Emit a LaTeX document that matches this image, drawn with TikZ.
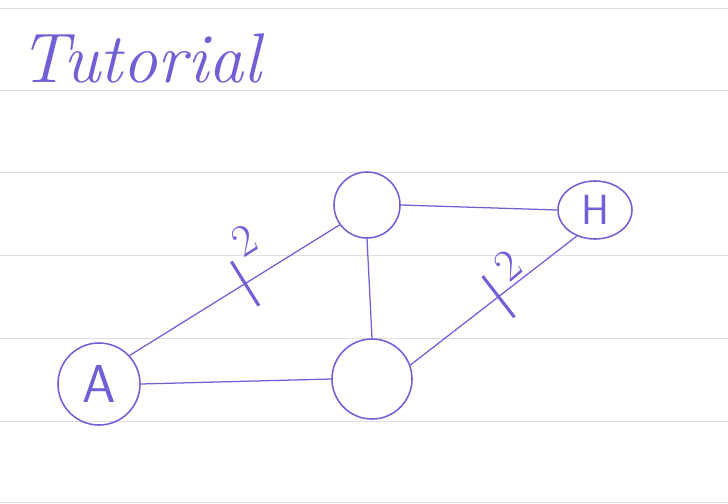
\documentclass[tikz,border=0pt]{standalone}
\usetikzlibrary{shapes.geometric}

\definecolor{penblue}{RGB}{112,96,214}
\definecolor{ruling}{RGB}{222,222,226}

\tikzset{
  vertex/.style = {circle, draw = penblue, line width = 1.1pt, text = penblue,
                   inner sep = 0pt, font = \sffamily\fontsize{38}{38}\selectfont},
  edge/.style   = {draw = penblue, line width = 0.9pt},
  tickmark/.style = {sloped, inner sep = 0pt, text = penblue},
  weight/.style = {text = penblue, font = \fontsize{32}{32}\selectfont}
}

\begin{document}
\begin{tikzpicture}[x = 0.025cm, y = -0.025cm]
\useasboundingbox (0,0) rectangle (728,504);

% ruled paper
\foreach \yy in {8,90,172,255,338,421,502}
  \draw[ruling, line width = 0.6pt] (0,\yy) -- (728,\yy);

\node[text = penblue,
    font = \itshape\fontsize{50}{50}\selectfont] (title) at (140,58) {Tutorial};

% vertices
\node[vertex, minimum size = 2.05cm] (A) at (99,384) {A};
\node[vertex, minimum size = 1.65cm] (top) at (367,205) {};
\node[vertex, minimum size = 2cm] (bot) at (372,379) {};
\node[vertex, ellipse,
    minimum width = 1.85cm,
    minimum height = 1.45cm] (H) at (595,210) {\fontsize{30}{30}\selectfont H};

% edges
\draw[edge] (A.43) -- node[tickmark, pos = 0.55] {\rule{2.2pt}{1.3cm}} (top.216);
\draw[edge] (top.east) -- (H.west);
\draw[edge] (top.south) -- (bot.north);
\draw[edge] (A.east) -- (bot.west);
\draw[edge] (bot.20) -- node[tickmark, pos = 0.53] {\rule{2.2pt}{1.3cm}} (H.235);

% weights
\node[weight, rotate = 32] (w1) at (244,240) {2};
\node[weight, rotate = 40] (w2) at (508,265) {2};
\end{tikzpicture}
\end{document}
